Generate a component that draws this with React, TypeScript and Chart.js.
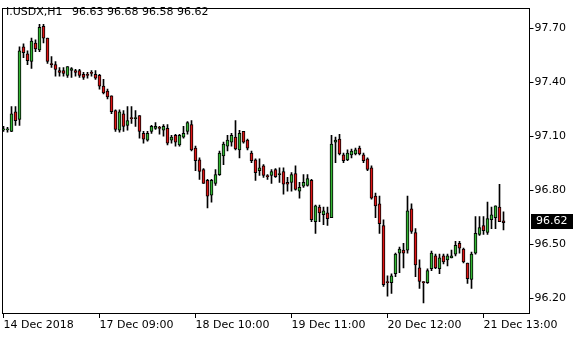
import { useEffect, useRef } from 'react';
import { Chart, registerables } from 'chart.js';

Chart.register(...registerables);

const symbolTitle = 'I.USDX,H1';

const opens = [
  97.135, 97.135, 97.127, 97.236, 97.193, 97.596, 97.558, 97.515, 97.618, 97.580,
  97.711, 97.645, 97.504, 97.498, 97.465, 97.465, 97.438, 97.465, 97.465, 97.465,
  97.444, 97.438, 97.449, 97.444, 97.438, 97.378, 97.351, 97.324, 97.242, 97.133,
  97.225, 97.160, 97.198, 97.198, 97.215, 97.116, 97.078, 97.127, 97.144, 97.144,
  97.133, 97.144, 97.078, 97.105, 97.051, 97.095, 97.127, 97.165, 97.034, 96.969,
  96.915, 96.855, 96.773, 96.838, 96.887, 96.991, 97.045, 97.067, 97.095, 97.024,
  97.127, 97.078, 97.007, 96.969, 96.909, 96.936, 96.876, 96.882, 96.915, 96.887,
  96.904, 96.844, 96.844, 96.893, 96.795, 96.822, 96.827, 96.855, 96.625, 96.707,
  96.664, 96.674, 96.647, 97.067, 97.084, 96.996, 96.969, 96.996, 97.002, 97.034,
  96.996, 96.975, 96.925, 96.767, 96.724, 96.604, 96.287, 96.287, 96.336, 96.451,
  96.467, 96.467, 96.696, 96.565, 96.369, 96.287, 96.287, 96.364, 96.435, 96.364,
  96.435, 96.413, 96.424, 96.445, 96.505, 96.473, 96.396, 96.304, 96.451, 96.555,
  96.604, 96.565, 96.636, 96.647, 96.707, 96.63,
];

const highs = [
  97.155, 97.149, 97.264, 97.264, 97.596, 97.613, 97.575, 97.645, 97.635, 97.722,
  97.722, 97.645, 97.542, 97.515, 97.482, 97.482, 97.487, 97.482, 97.471, 97.471,
  97.455, 97.455, 97.465, 97.465, 97.444, 97.416, 97.362, 97.324, 97.247, 97.247,
  97.242, 97.264, 97.264, 97.242, 97.215, 97.127, 97.127, 97.160, 97.176, 97.155,
  97.165, 97.165, 97.105, 97.111, 97.111, 97.155, 97.182, 97.187, 97.045, 96.980,
  96.920, 96.860, 96.860, 96.915, 97.018, 97.067, 97.105, 97.116, 97.187, 97.133,
  97.127, 97.084, 97.018, 96.975, 96.975, 96.942, 96.887, 96.915, 96.920, 96.925,
  96.925, 96.871, 96.898, 96.936, 96.844, 96.887, 96.887, 96.860, 96.718, 96.718,
  96.707, 96.707, 97.105, 97.095, 97.111, 97.007, 97.024, 97.029, 97.034, 97.045,
  97.007, 96.980, 96.936, 96.784, 96.767, 96.636, 96.325, 96.336, 96.451, 96.484,
  96.505, 96.767, 96.724, 96.587, 96.413, 96.293, 96.364, 96.462, 96.445, 96.445,
  96.445, 96.445, 96.467, 96.516, 96.516, 96.478, 96.396, 96.456, 96.653, 96.653,
  96.653, 96.734, 96.707, 96.713, 96.833, 96.68,
];

const lows = [
  97.127, 97.122, 97.125, 97.160, 97.160, 97.536, 97.498, 97.476, 97.569, 97.569,
  97.618, 97.504, 97.482, 97.433, 97.433, 97.433, 97.427, 97.427, 97.433, 97.427,
  97.416, 97.422, 97.433, 97.416, 97.362, 97.335, 97.307, 97.225, 97.127, 97.122,
  97.127, 97.133, 97.171, 97.155, 97.089, 97.062, 97.073, 97.116, 97.138, 97.111,
  97.100, 97.051, 97.062, 97.045, 97.045, 97.089, 97.111, 97.018, 96.909, 96.860,
  96.838, 96.702, 96.734, 96.827, 96.882, 96.942, 97.018, 97.045, 97.024, 96.980,
  97.062, 97.024, 96.953, 96.855, 96.882, 96.871, 96.860, 96.838, 96.871, 96.844,
  96.778, 96.795, 96.795, 96.800, 96.756, 96.816, 96.822, 96.625, 96.560, 96.625,
  96.609, 96.604, 96.647, 96.953, 96.996, 96.953, 96.964, 96.980, 96.996, 96.996,
  96.953, 96.909, 96.751, 96.647, 96.560, 96.265, 96.211, 96.227, 96.320, 96.342,
  96.369, 96.451, 96.560, 96.320, 96.254, 96.174, 96.282, 96.353, 96.364, 96.336,
  96.391, 96.380, 96.424, 96.435, 96.451, 96.396, 96.282, 96.254, 96.445, 96.549,
  96.555, 96.555, 96.587, 96.587, 96.625, 96.58,
];

const closes = [
  97.138, 97.138, 97.225, 97.187, 97.575, 97.564, 97.520, 97.629, 97.585, 97.705,
  97.645, 97.515, 97.498, 97.471, 97.455, 97.449, 97.487, 97.476, 97.455, 97.438,
  97.427, 97.438, 97.449, 97.422, 97.378, 97.340, 97.318, 97.236, 97.138, 97.236,
  97.155, 97.187, 97.198, 97.204, 97.127, 97.084, 97.116, 97.155, 97.155, 97.144,
  97.155, 97.062, 97.095, 97.067, 97.105, 97.116, 97.176, 97.024, 96.964, 96.904,
  96.838, 96.767, 96.855, 96.887, 97.007, 97.056, 97.078, 97.105, 97.029, 97.116,
  97.067, 97.034, 96.964, 96.898, 96.925, 96.882, 96.876, 96.904, 96.876, 96.893,
  96.833, 96.833, 96.887, 96.805, 96.816, 96.844, 96.865, 96.636, 96.713, 96.674,
  96.685, 96.642, 97.056, 97.078, 97.002, 96.964, 97.007, 97.018, 97.024, 97.002,
  96.964, 96.915, 96.756, 96.713, 96.614, 96.276, 96.287, 96.325, 96.445, 96.473,
  96.451, 96.685, 96.571, 96.385, 96.293, 96.287, 96.353, 96.451, 96.369, 96.424,
  96.402, 96.435, 96.435, 96.494, 96.478, 96.402, 96.309, 96.445, 96.560, 96.593,
  96.576, 96.642, 96.664, 96.713, 96.625, 96.62,
];

const priceTicks = [96.2, 96.5, 96.8, 97.1, 97.4, 97.7];
const timeTickLabels = ['14 Dec 2018', '17 Dec 09:00', '18 Dec 10:00', '19 Dec 11:00', '20 Dec 12:00', '21 Dec 13:00'];
const timeTickIndex = [0, 24, 48, 72, 96, 120];
const emptyBarsRight = 6;
const priceMin = 96.118;
const priceMax = 97.8145;

const FONT = '"DejaVu Sans", Verdana, sans-serif';
const UP = '#33b533';
const DOWN = '#dd1515';

export default function App() {
  const ref = useRef<HTMLCanvasElement | null>(null);

  useEffect(() => {
    document.body.style.margin = '0';
    const canvas = ref.current;
    if (!canvas) return;
    const total = opens.length + emptyBarsRight;
    const labels = Array.from({ length: total }, (_, i) => {
      const k = timeTickIndex.indexOf(i);
      return k >= 0 ? timeTickLabels[k] : '';
    });
    const wicks = labels.map((_, i) => (i < opens.length ? [lows[i], highs[i]] : null));
    const bodies = labels.map((_, i) => (i < opens.length ? [opens[i], closes[i]] : null));
    const bodyColors = labels.map((_, i) => (i < opens.length && closes[i] > opens[i] ? UP : DOWN));
    const last = opens.length - 1;

    const overlay = {
      id: 'mtOverlay',
      afterDraw(chart: any) {
        const ctx = chart.ctx as CanvasRenderingContext2D;
        const a = chart.chartArea;
        ctx.save();
        ctx.strokeStyle = '#000';
        ctx.lineWidth = 1;
        ctx.strokeRect(Math.round(a.left) + 0.5, Math.round(a.top) + 0.5, Math.round(a.right) - Math.round(a.left) - 1, Math.round(a.bottom) - Math.round(a.top));
        ctx.font = '11px ' + FONT;
        ctx.fillStyle = '#000';
        ctx.textBaseline = 'middle';
        ctx.textAlign = 'left';
        ctx.fillText(symbolTitle, 6, 12);
        const ohlc = [opens[last], highs[last], lows[last], closes[last]].map((v) => v.toFixed(2)).join(' ');
        ctx.fillText(ohlc, 72, 12);
        const ys = chart.scales.y;
        const y = Math.round(ys.getPixelForValue(closes[last]));
        ctx.fillStyle = '#000';
        ctx.fillRect(531, y - 9, 42, 15);
        ctx.fillStyle = '#fff';
        ctx.fillText(closes[last].toFixed(2), 536, y - 1.5);
        ctx.restore();
      },
    };

    const chart = new Chart(canvas, {
      type: 'bar',
      data: {
        labels,
        datasets: [
          {
            label: 'wick',
            data: wicks as any,
            backgroundColor: '#000',
            borderWidth: 0,
            barThickness: 1,
            grouped: false,
            order: 2,
          } as any,
          {
            label: 'body',
            data: bodies as any,
            backgroundColor: bodyColors,
            borderColor: '#000',
            borderWidth: 1,
            borderSkipped: false,
            barThickness: 3,
            minBarLength: 1,
            grouped: false,
            order: 1,
          } as any,
        ],
      },
      options: {
        responsive: false,
        animation: false,
        events: [],
        layout: { padding: { left: 1.5, top: 2, right: 0, bottom: 0 } },
        plugins: { legend: { display: false }, tooltip: { enabled: false } },
        scales: {
          x: {
            type: 'category',
            offset: true,
            grid: { display: true, drawOnChartArea: false, drawTicks: true, tickLength: 5, color: '#000', offset: false },
            border: { display: false },
            ticks: {
              autoSkip: false,
              maxRotation: 0,
              minRotation: 0,
              align: 'start',
              padding: 1,
              color: '#000',
              font: { family: FONT, size: 11 },
            },
            afterBuildTicks: (s: any) => {
              s.ticks = s.ticks.filter((t: any) => timeTickIndex.includes(t.value));
            },
            afterFit: (s: any) => {
              s.height = 27;
            },
          },
          y: {
            type: 'linear',
            position: 'right',
            min: priceMin,
            max: priceMax,
            grid: { display: true, drawOnChartArea: false, drawTicks: true, tickLength: 4, color: '#000' },
            border: { display: false },
            ticks: {
              padding: 1,
              color: '#000',
              font: { family: FONT, size: 11 },
              callback: (v: any) => Number(v).toFixed(2),
            },
            afterBuildTicks: (s: any) => {
              s.ticks = priceTicks.map((v) => ({ value: v }));
            },
            afterFit: (s: any) => {
              s.width = 50.5;
            },
          },
        },
      } as any,
      plugins: [overlay],
    });
    return () => chart.destroy();
  }, []);

  return <canvas ref={ref} width={580} height={340} style={{ display: 'block' }} />;
}
